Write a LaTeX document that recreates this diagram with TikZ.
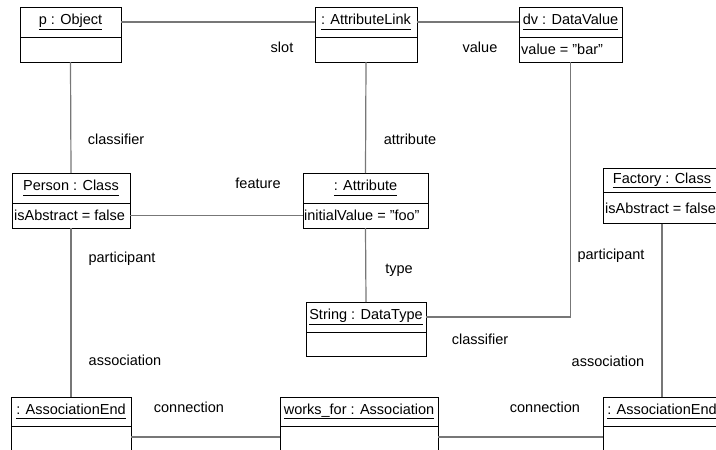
\documentclass[tikz,border=0pt]{standalone}
\usepackage{fontspec}
\setmainfont{Liberation Sans}
\definecolor{linkgray}{HTML}{777777}
\newcommand\uln[1]{\underline{#1\vphantom{gp}}}
\begin{document}
\begin{tikzpicture}[x=1pt,y=-1pt,
  every node/.style={font=\fontsize{14.5}{17}\selectfont},
  box/.style={draw=black, line width=1pt, inner sep=0pt, outer sep=0pt},
  body/.style={box, anchor=north},
  lbl/.style={inner sep=0pt, anchor=mid},
  field/.style={inner sep=0pt, anchor=west, xshift=2pt},
  link/.style={draw=linkgray, line width=1.2pt}]
\useasboundingbox (0,0) rectangle (716,450);
\clip (0,0) rectangle (716,450);

% object boxes: header node plus compartment node below it
\node[box, minimum width=101pt, minimum height=30pt] (obj) at (70.5,22) {\uln{p : Object}};
\node[body, minimum width=101pt, minimum height=25pt] (objb) at (obj.south) {};

\node[box, minimum width=102pt, minimum height=30pt] (al) at (366,22) {\uln{: AttributeLink}};
\node[body, minimum width=102pt, minimum height=25pt] (alb) at (al.south) {};

\node[box, minimum width=103pt, minimum height=30pt] (dv) at (570.5,22) {\uln{dv : DataValue}};
\node[body, minimum width=103pt, minimum height=25pt] (dvb) at (dv.south) {};
\node[field] at (dvb.west) {value = "bar"};

\node[box, minimum width=118pt, minimum height=30pt] (pers) at (71,188) {\uln{Person : Class}};
\node[body, minimum width=118pt, minimum height=25pt] (persb) at (pers.south) {};
\node[field] at (persb.west) {isAbstract = false};

\node[box, minimum width=125pt, minimum height=30pt] (attr) at (365.5,188) {\uln{: Attribute}};
\node[body, minimum width=125pt, minimum height=25pt] (attrb) at (attr.south) {};
\node[field, xshift=-1pt] at (attrb.west) {initialValue = "foo"};

\node[box, minimum width=120pt, minimum height=30pt] (str) at (366,317) {\uln{String : DataType}};
\node[body, minimum width=120pt, minimum height=24pt] (strb) at (str.south) {};

\node[box, minimum width=118pt, minimum height=24pt] (fac) at (662,180.5) {\uln{Factory : Class}};
\node[body, minimum width=118pt, minimum height=31pt] (facb) at (fac.south) {};
\node[field] at (facb.west) {isAbstract = false};

\node[box, minimum width=120pt, minimum height=29pt] (aea) at (71,411.5) {\uln{: AssociationEnd}};
\node[body, minimum width=120pt, minimum height=25pt] (aeab) at (aea.south) {};

\node[box, minimum width=158pt, minimum height=29pt] (wf) at (359,411.5) {\uln{works\_for : Association}};
\node[body, minimum width=158pt, minimum height=25pt] (wfb) at (wf.south) {};

\node[box, minimum width=118pt, minimum height=29pt] (aeb) at (662,411.5) {\uln{: AssociationEnd}};
\node[body, minimum width=118pt, minimum height=25pt] (aebb) at (aeb.south) {};

% links
\draw[link] (obj.east) -- (al.west);
\draw[link] (al.east) -- (dv.west);
\draw[link] (objb.south) -- (pers.north);
\draw[link] (alb.south) -- (attr.north);
\draw[link] (persb.east) -- (attrb.west);
\draw[link] (attrb.south) -- (str.north);
\draw[link] (str.east) -- (str.east -| dvb.south) -- (dvb.south);
\draw[link] (persb.south) -- (aea.north);
\draw[link] (facb.south) -- (aeb.north);
\draw[link] ([yshift=1.5pt]aeab.east) -- ([yshift=1.5pt]wfb.west);
\draw[link] ([yshift=1.5pt]wfb.east) -- ([yshift=1.5pt]aebb.west);

% role names
\node[lbl] (l1) at (282,50) {slot};
\node[lbl] (l2) at (480,50) {value};
\node[lbl] (l3) at (116,142) {classifier};
\node[lbl] (l4) at (410,142) {attribute};
\node[lbl] (l5) at (258,186) {feature};
\node[lbl] (l6) at (122,260) {participant};
\node[lbl] (l7) at (399,271) {type};
\node[lbl] (l8) at (611,257) {participant};
\node[lbl] (l9) at (480,342) {classifier};
\node[lbl] (l10) at (125,363) {association};
\node[lbl] (l11) at (608,364) {association};
\node[lbl] (l12) at (189,410) {connection};
\node[lbl] (l13) at (545,410) {connection};
\end{tikzpicture}
\end{document}
